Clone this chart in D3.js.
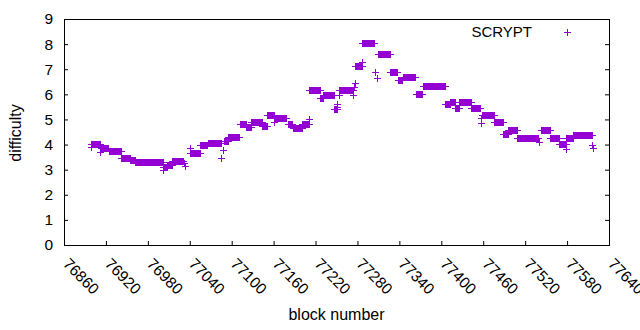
<!DOCTYPE html>
<html><head><meta charset="utf-8">
<script src="https://cdn.jsdelivr.net/npm/d3@7"></script>
<style>
body{margin:0;background:#fff}
svg{display:block}
text{font-family:"Liberation Sans",Arial,sans-serif;font-size:15px;fill:#000}
</style>
</head><body>
<svg id="chart" width="640" height="330"></svg>
<script>
const xTicks = [76860,76920,76980,77040,77100,77160,77220,77280,77340,77400,77460,77520,77580,77640];
const yTicks = [0,1,2,3,4,5,6,7,8,9];
const seriesName = "SCRYPT";

// runs of consecutive blocks with the same difficulty
const runStart = [76898,76913,76924,76942,76955,76962,77002,77008,77015,77040,77055,77066,77089,77095,77112,77121,77128,77144,77151,77162,77180,77188,77201,77211,77227,77231,77247,77254,77277,77287,77309,77327,77338,77345,77364,77374,77406,77413,77420,77426,77443,77458,77476,77489,77496,77509,77542,77556,77569,77579,77589];
const runEnd   = [76912,76923,76941,76954,76961,77001,77007,77014,77030,77054,77065,77085,77094,77111,77120,77127,77143,77150,77161,77178,77187,77200,77210,77226,77230,77246,77250,77273,77286,77304,77326,77337,77344,77363,77373,77405,77412,77419,77425,77442,77456,77475,77488,77495,77508,77539,77555,77568,77578,77588,77616];
const runValue = [4.03,3.86,3.75,3.47,3.39,3.31,3.09,3.20,3.35,3.67,3.97,4.07,4.13,4.29,4.83,4.71,4.89,4.72,5.19,5.07,4.80,4.64,4.83,6.19,5.86,5.98,5.40,6.19,7.12,8.05,7.61,6.90,6.59,6.70,6.03,6.34,5.62,5.70,5.46,5.70,5.46,5.17,4.91,4.44,4.59,4.27,4.59,4.27,4.03,4.27,4.39];

// isolated blocks
const singleBlock = [76898,76911,77001,77032,77033,77040,77085,77088,77161,77210,77250,77251,77254,77273,77275,77276,77287,77305,77308,77457,77457,77540,77578,77616,77617];
const singleValue = [3.91,3.70,3.00,3.27,3.13,3.88,3.48,3.80,4.89,5.00,5.48,5.63,5.99,5.99,6.31,6.47,7.27,6.87,6.67,5.05,4.85,4.12,3.84,4.00,3.87];

const points = [];
runStart.forEach((s,i)=>{ for(let b=s;b<=runEnd[i];b++) points.push([b,runValue[i]]); });
singleBlock.forEach((b,i)=>points.push([b,singleValue[i]]));

const L=64,R=609,T=19,B=245;
const color="#9400d3";
const svg=d3.select("#chart");
const x=d3.scaleLinear().domain([76860,77640]).range([L,R]);
const y=d3.scaleLinear().domain([0,9]).range([B,T]);

// axes (ticks inward)
const gx=svg.append("g").attr("transform",`translate(0,${B})`)
  .call(d3.axisBottom(x).tickValues(xTicks).tickSize(-4).tickFormat(""));
const gy=svg.append("g").attr("transform",`translate(${L},0)`)
  .call(d3.axisLeft(y).tickValues(yTicks).tickSize(-4).tickPadding(11));
const gy2=svg.append("g").attr("transform",`translate(${R},0)`)
  .call(d3.axisRight(y).tickValues(yTicks).tickSize(-4).tickFormat(""));
[gx,gy,gy2].forEach(g=>{g.select(".domain").remove();g.selectAll("line").attr("stroke","#000");});
svg.selectAll("g").attr("font-size",null).attr("font-family",null);
gy.selectAll("text").style("font-size","15.5px");

// x tick labels rotated
svg.append("g").selectAll("text").data(xTicks).join("text")
  .attr("transform",d=>`translate(${x(d)+2},${B+16}) rotate(45)`)
  .style("font-size","15.5px")
  .attr("text-anchor","start").attr("dy","0.35em").text(d=>d);

// border
svg.append("rect").attr("x",L+0.5).attr("y",T+0.5).attr("width",R-L).attr("height",B-T)
  .attr("fill","none").attr("stroke","#000").attr("stroke-width",1);

// labels
svg.append("text").attr("transform",`translate(21,${(T+B)/2+1}) rotate(-90)`)
  .style("font-size","16px").attr("text-anchor","middle").text("difficulty");
svg.append("text").attr("x",(L+R)/2).attr("y",320).style("font-size","16px")
  .attr("text-anchor","middle").text("block number");

// points
const plus=(cx,cy)=>`M${cx-3},${cy}H${cx+4}M${cx},${cy-3}V${cy+4}`;
svg.append("path").attr("fill","none").attr("stroke",color).attr("stroke-width",1)
  .attr("shape-rendering","crispEdges")
  .attr("d",points.map(p=>plus(Math.round(x(p[0])),Math.round(y(p[1])))).join(""));

// legend
svg.append("text").attr("x",532).attr("y",32).attr("dy","0.35em").attr("text-anchor","end").text(seriesName);
svg.append("path").attr("fill","none").attr("stroke",color).attr("stroke-width",1)
  .attr("shape-rendering","crispEdges").attr("d",plus(567,32));
</script>
</body></html>
